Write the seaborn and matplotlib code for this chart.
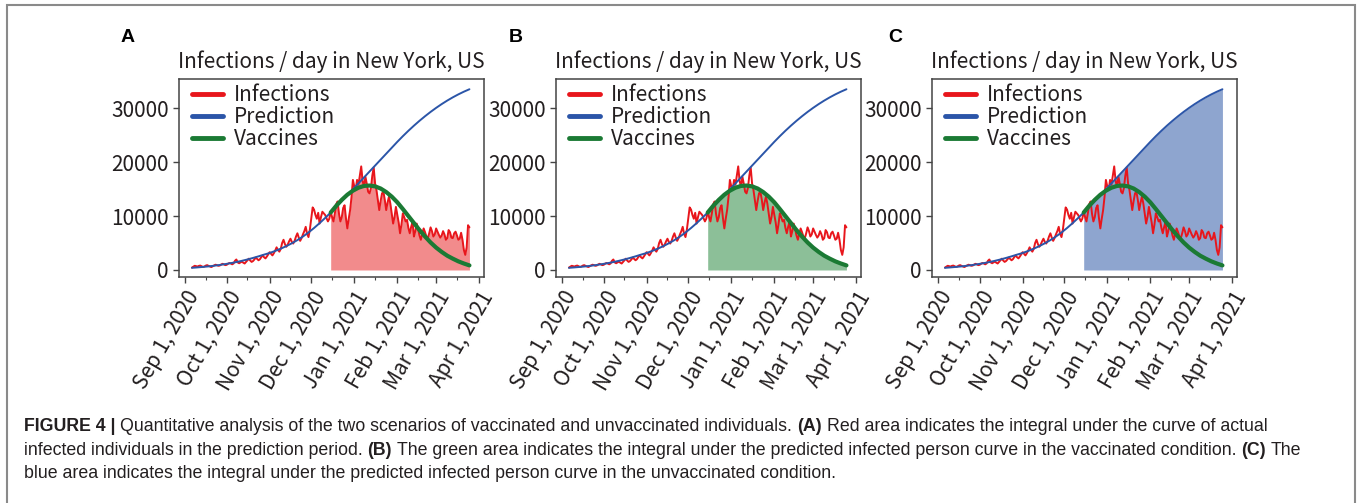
# Figure 4 - infections / day in New York, three panels with shaded integrals
import numpy as np
import pandas as pd
import matplotlib.pyplot as plt
import matplotlib.dates as mdates
from matplotlib.patches import Rectangle
from matplotlib.ticker import MultipleLocator
import seaborn as sns

sns.set_style("ticks")
plt.rcParams['font.family'] = ['Noto Sans CJK SC', 'DejaVu Sans']

# daily reported infections, Sep 6 2020 -> Mar 25 2021
infections = [
    450, 620, 780, 700, 640, 760, 820, 700, 560, 650,
    820, 900, 760, 650, 540, 700, 850, 980, 900, 780,
    820, 1000, 1150, 1050, 900, 950, 1150, 1300, 1200, 1050,
    1200, 1700, 1950, 1400, 1250, 1400, 1550, 1350, 1200, 1500,
    1800, 2100, 1750, 1500, 1650, 1950, 2300, 2050, 1800, 2000,
    2400, 2700, 2350, 2150, 2500, 2900, 3300, 3000, 2700, 3100,
    3600, 4200, 3700, 3400, 3900, 5000, 5600, 4800, 4300, 4700,
    5300, 5800, 5200, 4900, 5400, 6200, 6800, 6000, 5400, 5900,
    6600, 7200, 8000, 6700, 6100, 7500, 9500, 11600, 11200, 10200,
    9500, 10600, 8600, 9800, 10800, 10500, 10200, 9600, 9000, 9500,
    10800, 9800, 9000, 10500, 12200, 12700, 10400, 9000, 9800, 11500,
    12000, 9600, 7700, 9500, 11100, 13500, 16700, 15500, 14800, 16700,
    15800, 17500, 19200, 16500, 15400, 17300, 16000, 14500, 14200, 15200,
    17500, 19000, 16000, 14800, 13000, 11100, 12800, 14200, 14500, 13000,
    11100, 12500, 13600, 12300, 10500, 8600, 9800, 11700, 10200, 8800,
    6800, 8400, 10500, 9800, 9000, 9300, 7800, 6800, 8000, 8900,
    6200, 7200, 8600, 7600, 6400, 5600, 6800, 7700, 7000, 6200,
    5900, 6800, 7900, 7200, 6200, 6600, 7700, 7100, 6500, 6000,
    6400, 7200, 6600, 5600, 5900, 7400, 7000, 6000, 5900, 6800,
    7100, 6400, 5600, 5800, 6900, 5600, 3700, 2800, 4200, 8300, 7900,
]

# predicted curve without vaccination, every 4 days from Sep 6 2020
prediction = [
    400, 480, 570, 670, 790, 930, 1090, 1270, 1470, 1700,
    1950, 2230, 2530, 2850, 3150, 3530, 3950, 4420, 4950, 5540,
    6200, 6950, 7780, 8680, 9640, 10650, 11700, 12750, 13850, 14950,
    16050, 17150, 18250, 19350, 20450, 21550, 22650, 23750, 24800, 25800,
    26750, 27650, 28500, 29300, 30050, 30750, 31400, 32000, 32550, 33050,
    33500,
]

# predicted curve with vaccination, every 4 days from Dec 15 2020
vaccines = [
    10650, 11900, 13000, 13950, 14700, 15250, 15580, 15650, 15500, 15100,
    14450, 13600, 12550, 11300, 10000, 8700, 7400, 6200, 5100, 4150,
    3350, 2650, 2100, 1600, 1200, 850,
]

panel_letters = ["A", "B", "C"]
plot_title = "Infections / day in New York, US"

inf_dates = pd.date_range("2020-09-06", periods=len(infections), freq="D")
pred_dates = pd.date_range("2020-09-06", periods=len(prediction), freq="4D")
vac_dates = pd.date_range("2020-12-15", periods=len(vaccines), freq="4D")
pred_start = pd.Timestamp("2020-12-15")

W, H = 1357, 503
fig = plt.figure(figsize=(W / 100, H / 100), dpi=100)

text_col = "#231f20"
lefts = [179, 556, 932]
letter_x = [128, 516, 895]

for i, letter in enumerate(panel_letters):
    ax = fig.add_axes([lefts[i] / W, 226 / H, 305 / W, 198 / H])

    # shaded integral
    if letter == "A":
        m = inf_dates >= pred_start
        ax.fill_between(inf_dates[m], 0, np.array(infections)[m], color="#f28b8c", lw=0, zorder=0.5)
    elif letter == "B":
        ax.fill_between(vac_dates, 0, vaccines, color="#8cbf98", lw=0, zorder=0.5)
    else:
        m = pred_dates >= pred_start
        ax.fill_between(pred_dates[m], 0, np.array(prediction)[m], color="#8ea5cf", lw=0, zorder=0.5)

    sns.lineplot(x=inf_dates, y=infections, ax=ax, color="#e8161c", lw=1.4, label="Infections")
    sns.lineplot(x=pred_dates, y=prediction, ax=ax, color="#2b55a8", lw=1.4, label="Prediction")
    sns.lineplot(x=vac_dates, y=vaccines, ax=ax, color="#1b7a34", lw=3, label="Vaccines")

    ax.set_xlim(pd.Timestamp("2020-08-27 16:00"), pd.Timestamp("2021-04-04 12:00"))
    ax.set_ylim(-1300, 35400)
    ax.yaxis.set_major_locator(MultipleLocator(10000))
    ax.xaxis.set_major_locator(mdates.MonthLocator())
    ax.xaxis.set_minor_locator(mdates.MonthLocator(bymonthday=16))
    ax.xaxis.set_major_formatter(mdates.DateFormatter("%b %-d, %Y"))
    ax.set_xlabel("")
    ax.set_ylabel("")

    ax.tick_params(which="major", direction="out", length=4, width=1, colors="#444444",
                   labelcolor=text_col, labelsize=15)
    ax.tick_params(which="minor", direction="out", length=2.5, width=0.8, colors="#444444")
    plt.setp(ax.get_xticklabels(), rotation=60, ha="right", rotation_mode="anchor")
    for s in ax.spines.values():
        s.set_color("#444444")
        s.set_linewidth(1.1)

    ax.set_title(plot_title, fontsize=15, pad=8, color=text_col)

    leg = ax.legend(loc="upper left", bbox_to_anchor=(0.025, 1.0), frameon=False, fontsize=15,
                    handlelength=1.5, labelspacing=0.0, handletextpad=0.5,
                    borderaxespad=0.05, borderpad=0.2)
    for line in leg.get_lines():
        line.set_linewidth(3.5)
    for t in leg.get_texts():
        t.set_color(text_col)

    fig.text(letter_x[i] / W, 1 - 38 / H, letter, fontsize=14, fontweight="bold",
             family="Liberation Sans", ha="center", va="center", color="black")

# gray frame around the figure
fig.patches.append(Rectangle((7 / W, -0.02), (1355 - 7) / W, 1.02 - 5 / H, transform=fig.transFigure,
                             fill=False, edgecolor="#8a8a8a", lw=1.5))

# caption with bold pieces
cap_font = ["Liberation Sans Narrow", "Liberation Sans"]
cap_size = 12.8
caption_lines = [
    [("FIGURE 4 |", True), ("Quantitative analysis of the two scenarios of vaccinated and unvaccinated individuals.", False),
     ("(A)", True), ("Red area indicates the integral under the curve of actual", False)],
    [("infected individuals in the prediction period.", False), ("(B)", True),
     ("The green area indicates the integral under the predicted infected person curve in the vaccinated condition.", False),
     ("(C)", True), ("The", False)],
    [("blue area indicates the integral under the predicted infected person curve in the unvaccinated condition.", False)],
]
renderer = fig.canvas.get_renderer()
probe1 = fig.text(0, 0, "x x", fontsize=cap_size, family=cap_font)
probe2 = fig.text(0, 0, "xx", fontsize=cap_size, family=cap_font)
space_w = probe1.get_window_extent(renderer).width - probe2.get_window_extent(renderer).width
probe1.remove()
probe2.remove()

line_base = [431, 455, 478]
for row, segs in zip(line_base, caption_lines):
    x = 24
    for txt, bold in segs:
        t = fig.text(x / W, 1 - row / H, txt, fontsize=cap_size, family=cap_font,
                     fontweight="bold" if bold else "normal", color=text_col,
                     va="baseline", ha="left")
        x += t.get_window_extent(renderer).width + space_w

fig.savefig("out.png", dpi=100)
